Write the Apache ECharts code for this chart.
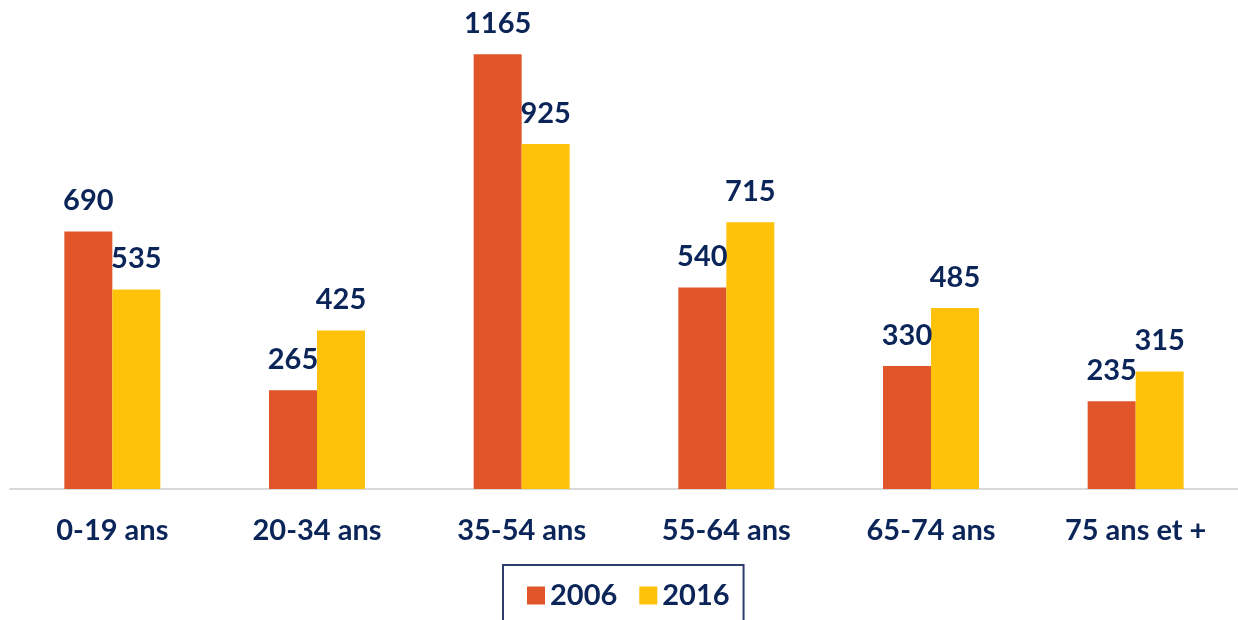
<!DOCTYPE html>
<html>
<head>
    <meta charset="utf-8">
    <title>Population par tranche d'âge</title>
    <script src="https://cdn.jsdelivr.net/npm/echarts@6/dist/echarts.min.js"></script>
    <style>
        html, body { margin: 0; padding: 0; background: #fff; }
        #main { width: 1238px; height: 620px; }
    </style>
</head>
<body>
<div id="main"></div>
<script type="text/javascript">
    var categories = ['0-19 ans', '20-34 ans', '35-54 ans', '55-64 ans', '65-74 ans', '75 ans et +'];
    var values2006 = [690, 265, 1165, 540, 330, 235];
    var values2016 = [535, 425, 925, 715, 485, 315];
    var seriesNames = ['2006', '2016'];

    var navy = '#0B2559';
    var fontFam = 'Lato, "Open Sans", sans-serif';

    var myChart = echarts.init(document.getElementById('main'));

    var labelStyle = {
        show: true,
        position: 'top',
        distance: 16,
        color: navy,
        fontSize: 29,
        fontWeight: 'bold',
        fontFamily: fontFam
    };

    var option = {
        backgroundColor: '#ffffff',
        animation: false,
        color: ['#E1552A', '#FFC20A'],
        grid: { left: 10, right: 0, top: 4, bottom: 131 },
        legend: {
            data: seriesNames,
            left: 503,
            top: 565,
            padding: [16, 14, 16, 24],
            borderColor: '#2E3D6B',
            borderWidth: 2,
            itemWidth: 18,
            itemHeight: 18,
            itemGap: 22,
            icon: 'rect',
            textStyle: {
                color: navy,
                fontSize: 29,
                fontWeight: 'bold',
                fontFamily: fontFam
            }
        },
        xAxis: {
            type: 'category',
            data: categories,
            axisLine: { lineStyle: { color: '#D9D9D9', width: 2 } },
            axisTick: { show: false },
            axisLabel: {
                margin: 27,
                color: navy,
                fontSize: 29,
                fontWeight: 'bold',
                fontFamily: fontFam
            }
        },
        yAxis: {
            type: 'value',
            min: 0,
            max: 1300,
            show: false,
            splitLine: { show: false }
        },
        series: [
            {
                name: seriesNames[0],
                type: 'bar',
                barWidth: 48,
                barGap: '0%',
                data: values2006,
                label: labelStyle
            },
            {
                name: seriesNames[1],
                type: 'bar',
                barWidth: 48,
                barGap: '0%',
                data: values2016,
                label: labelStyle
            }
        ]
    };

    myChart.setOption(option);
</script>
</body>
</html>
